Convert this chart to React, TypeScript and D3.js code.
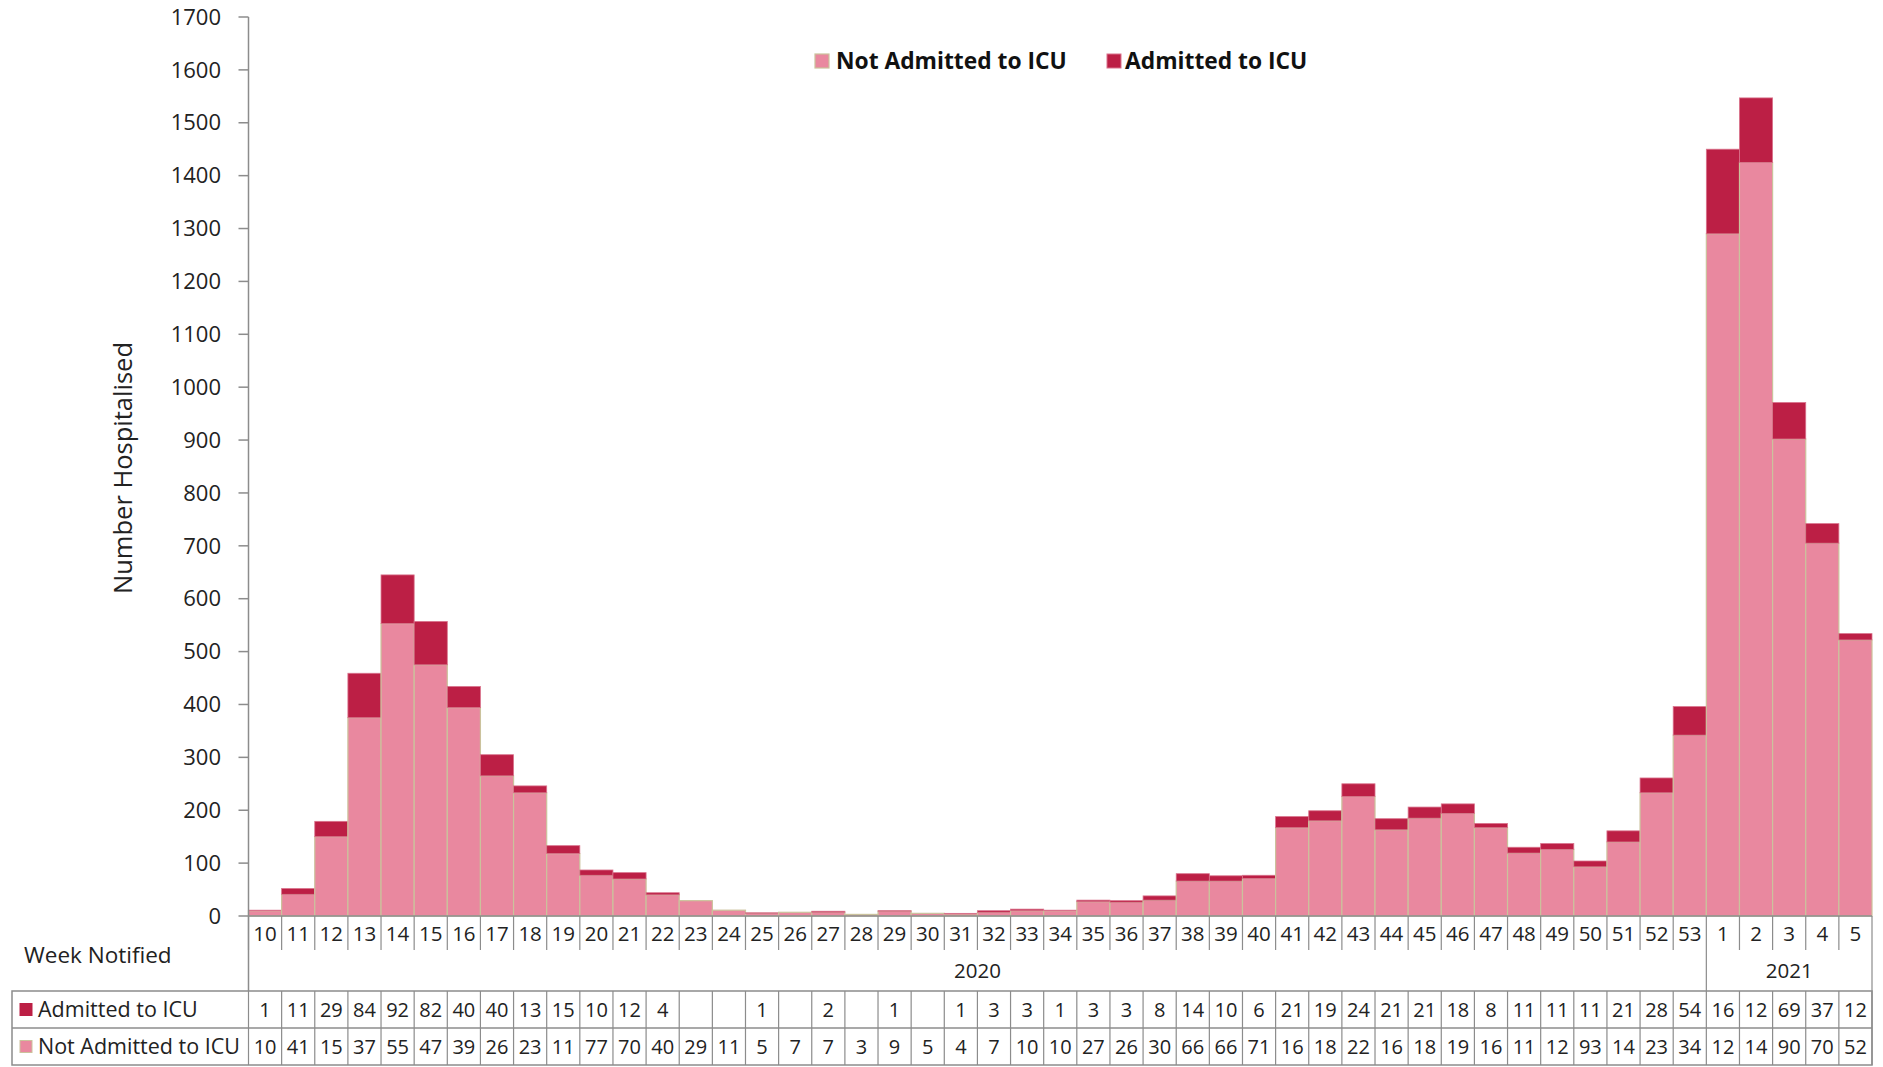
import React from "react";
import * as d3 from "d3";

const weeks: string[] = [
  "10","11","12","13","14","15","16","17","18","19","20","21","22","23","24","25","26","27","28","29","30","31","32","33","34","35","36","37","38","39","40","41","42","43","44","45","46","47","48","49","50","51","52","53",
  "1","2","3","4","5",
];
const years: { label: string; from: number; to: number }[] = [
  { label: "2020", from: 0, to: 43 },
  { label: "2021", from: 44, to: 48 },
];
const notAdmitted: number[] = [
  10, 41, 150, 375, 553, 475, 394, 265, 233, 118, 77, 70, 40, 29, 11, 5, 7, 7, 3, 9, 5, 4, 7, 10, 10, 27, 26, 30, 66, 66, 71,
  167, 180, 226, 163, 185, 194, 167, 119, 126, 93, 140, 233, 342,
  1290, 1425, 902, 705, 522,
];
const admitted: (number | null)[] = [
  1, 11, 29, 84, 92, 82, 40, 40, 13, 15, 10, 12, 4, null, null, 1, null, 2, null, 1, null, 1, 3, 3, 1, 3, 3, 8, 14, 10, 6,
  21, 19, 24, 21, 21, 18, 8, 11, 11, 11, 21, 28, 54,
  160, 122, 69, 37, 12,
];
const yTicks: number[] = d3.range(0, 1701, 100);
const seriesNames = { not: "Not Admitted to ICU", adm: "Admitted to ICU" };

const W = 1883;
const H = 1067;
const FONT = "'Open Sans', 'DejaVu Sans', sans-serif";
const PINK = "#E9889F";
const CRIMSON = "#BC1F45";
const TAN = "#CBC29C";
const GREY = "#8C8C8C";

// Excel data table wraps numbers that are too wide; only the first line (2 chars) is visible
const cellText = (v: number | null) => {
  if (v === null || v === undefined) return "";
  const s = String(v);
  return s.length > 2 ? s.slice(0, 2) : s;
};

export default function App() {
  const left = 248.5;
  const right = 1872;
  const y0 = 916;
  const yTop = 17;
  const x = d3.scaleBand<number>().domain(d3.range(weeks.length)).range([left, right]).padding(0);
  const y = d3.scaleLinear().domain([0, 1700]).range([y0, yTop]);
  const bw = x.bandwidth();

  const stack = weeks.map((_, i) => {
    const na = notAdmitted[i];
    const ad = admitted[i] ?? 0;
    return { i, na, ad };
  });

  const tableTop = 991;
  const rowH = 37;
  const tableLeft = 12;
  const tableBottom = tableTop + rowH * 2;
  const boundaries = d3.range(weeks.length + 1).map((i) => (i < weeks.length ? x(i)! : right));

  return (
    <svg
      width={W}
      height={H}
      style={{ position: "absolute", left: 0, top: 0, background: "#fff" }}
      fontFamily={FONT}
    >
      <rect x={0} y={0} width={W} height={H} fill="#fff" />

      {/* bars */}
      {stack.map((d) => (
        <g key={d.i}>
          <rect
            x={x(d.i)!}
            y={y(d.na)}
            width={bw}
            height={y0 - y(d.na)}
            fill={PINK}
            stroke={TAN}
            strokeWidth={1.2}
          />
          {d.ad > 0 && (
            <rect
              x={x(d.i)!}
              y={y(d.na + d.ad)}
              width={bw}
              height={y(d.na) - y(d.na + d.ad)}
              fill={CRIMSON}
              stroke="#D9738C"
              strokeWidth={0.8}
            />
          )}
        </g>
      ))}

      {/* y axis */}
      <line x1={left} x2={left} y1={yTop} y2={tableTop} stroke={GREY} strokeWidth={1.5} />
      {yTicks.map((t) => (
        <g key={t}>
          <line x1={left - 10} x2={left} y1={y(t)} y2={y(t)} stroke={GREY} strokeWidth={1.5} />
          <text x={221} y={y(t)} dy="0.35em" textAnchor="end" fontSize={22} fill="#222">
            {t}
          </text>
        </g>
      ))}
      <text
        transform={`translate(123,${(342 + 594) / 2}) rotate(-90)`}
        textAnchor="middle"
        dy="0.35em"
        fontSize={25.5}
        fill="#222"
      >
        Number Hospitalised
      </text>

      {/* x axis */}
      <line x1={left} x2={right} y1={y0} y2={y0} stroke={GREY} strokeWidth={1.5} />
      {boundaries.map((bx, i) => {
        const full = i === 44 || i === weeks.length;
        return (
          <line
            key={i}
            x1={bx}
            x2={bx}
            y1={y0}
            y2={full ? tableTop : 950}
            stroke={GREY}
            strokeWidth={1.2}
          />
        );
      })}
      {weeks.map((w, i) => (
        <text
          key={i}
          x={x(i)! + bw / 2}
          y={934}
          dy="0.35em"
          textAnchor="middle"
          fontSize={20.5}
          fill="#222"
        >
          {w}
        </text>
      ))}
      {years.map((yr) => (
        <text
          key={yr.label}
          x={(x(yr.from)! + x(yr.to)! + bw) / 2}
          y={971}
          dy="0.35em"
          textAnchor="middle"
          fontSize={20.5}
          fill="#222"
        >
          {yr.label}
        </text>
      ))}
      <text x={24} y={955} dy="0.35em" fontSize={22.5} fill="#222">
        Week Notified
      </text>

      {/* data table */}
      <rect
        x={tableLeft}
        y={tableTop}
        width={right - tableLeft}
        height={rowH * 2}
        fill="none"
        stroke={GREY}
        strokeWidth={1.5}
      />
      <line x1={tableLeft} x2={right} y1={tableTop + rowH} y2={tableTop + rowH} stroke={GREY} strokeWidth={1.5} />
      {boundaries.map((bx, i) => (
        <line key={i} x1={bx} x2={bx} y1={tableTop} y2={tableBottom} stroke={GREY} strokeWidth={1.2} />
      ))}
      {[
        { name: seriesNames.adm, color: CRIMSON, stroke: CRIMSON, vals: admitted },
        { name: seriesNames.not, color: PINK, stroke: TAN, vals: notAdmitted as (number | null)[] },
      ].map((row, r) => {
        const cy = tableTop + rowH * r + rowH / 2;
        return (
          <g key={row.name}>
            <rect x={20} y={cy - 6} width={12} height={12} fill={row.color} stroke={row.stroke} strokeWidth={1} />
            <text x={38} y={cy} dy="0.35em" fontSize={21.5} fill="#222">
              {row.name}
            </text>
            {row.vals.map((v, i) => (
              <text
                key={i}
                x={x(i)! + bw / 2}
                y={cy}
                dy="0.35em"
                textAnchor="middle"
                fontSize={20}
                fill="#222"
              >
                {cellText(v)}
              </text>
            ))}
          </g>
        );
      })}

      {/* legend */}
      <rect x={815} y={54} width={14} height={14} fill={PINK} stroke={TAN} strokeWidth={1.2} />
      <text x={836} y={61} dy="0.35em" fontSize={22.8} fontWeight="bold" fill="#111">
        {seriesNames.not}
      </text>
      <rect x={1107} y={54} width={14} height={14} fill={CRIMSON} stroke="#D9738C" strokeWidth={1} />
      <text x={1125} y={61} dy="0.35em" fontSize={22.8} fontWeight="bold" fill="#111">
        {seriesNames.adm}
      </text>
    </svg>
  );
}
